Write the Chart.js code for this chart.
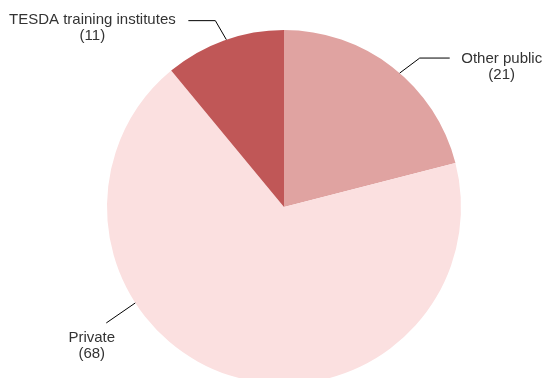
<!DOCTYPE html>
<html>
<head>
<meta charset="utf-8">
<script src="https://cdn.jsdelivr.net/npm/chart.js@4/dist/chart.umd.min.js"></script>
<style>
  html, body { margin: 0; padding: 0; background: #fff; overflow: hidden; }
  #wrap { width: 544px; height: 378px; overflow: hidden; }
</style>
</head>
<body>
<div id="wrap"><canvas id="c" width="544" height="414"></canvas></div>
<script>
// Providers of training, share by type
const categories = ["Other public", "Private", "TESDA training institutes"];
const shares = [21, 68, 11];
const sliceColors = ["#e0a3a1", "#fbe0e0", "#c05757"];

// Leader-line layout per slice: where on the arc the line starts (fraction of the slice),
// the elbow and end offsets from that point, and the text anchor offset from the line end.
const labelLayout = [
  { frac: 0.54, elbow: [20, -15], end: [50, -15], text: [52, 1] },
  { frac: 0.66, elbow: [-29, 20], end: [-29, 20], text: [-14.5, 15] },
  { frac: 0.52, elbow: [-11, -19], end: [-38, -19], text: [-96, -1] }
];

const leaderLabels = {
  id: "leaderLabels",
  afterDatasetsDraw(chart) {
    const ctx = chart.ctx;
    const meta = chart.getDatasetMeta(0);
    ctx.save();
    meta.data.forEach((arc, i) => {
      const lay = labelLayout[i];
      const p = arc.getProps(["x", "y", "startAngle", "endAngle", "outerRadius"], true);
      const a = p.startAngle + (p.endAngle - p.startAngle) * lay.frac;
      const sx = p.x + Math.cos(a) * p.outerRadius;
      const sy = p.y + Math.sin(a) * p.outerRadius;
      const ex = sx + lay.elbow[0], ey = sy + lay.elbow[1];
      const tx = sx + lay.end[0], ty = sy + lay.end[1];
      ctx.strokeStyle = "#000";
      ctx.lineWidth = 1;
      ctx.beginPath();
      ctx.moveTo(sx, sy);
      ctx.lineTo(ex, ey);
      ctx.lineTo(tx, ty);
      ctx.stroke();
      const lx = tx + lay.text[0], ly = ty + lay.text[1];
      ctx.fillStyle = "#333";
      ctx.font = "15px 'Liberation Sans', Arial, sans-serif";
      ctx.textAlign = "center";
      ctx.textBaseline = "middle";
      ctx.fillText(categories[i], lx, ly);
      ctx.fillText("(" + shares[i] + ")", lx, ly + 16);
    });
    ctx.restore();
  }
};

new Chart(document.getElementById("c"), {
  type: "pie",
  data: {
    labels: categories,
    datasets: [{
      data: shares,
      backgroundColor: sliceColors,
      borderWidth: 0
    }]
  },
  options: {
    responsive: false,
    animation: false,
    layout: { padding: { top: 30, bottom: 30, left: 24, right: 0 } },
    plugins: {
      legend: { display: false },
      tooltip: { enabled: false }
    }
  },
  plugins: [leaderLabels]
});
</script>
</body>
</html>
